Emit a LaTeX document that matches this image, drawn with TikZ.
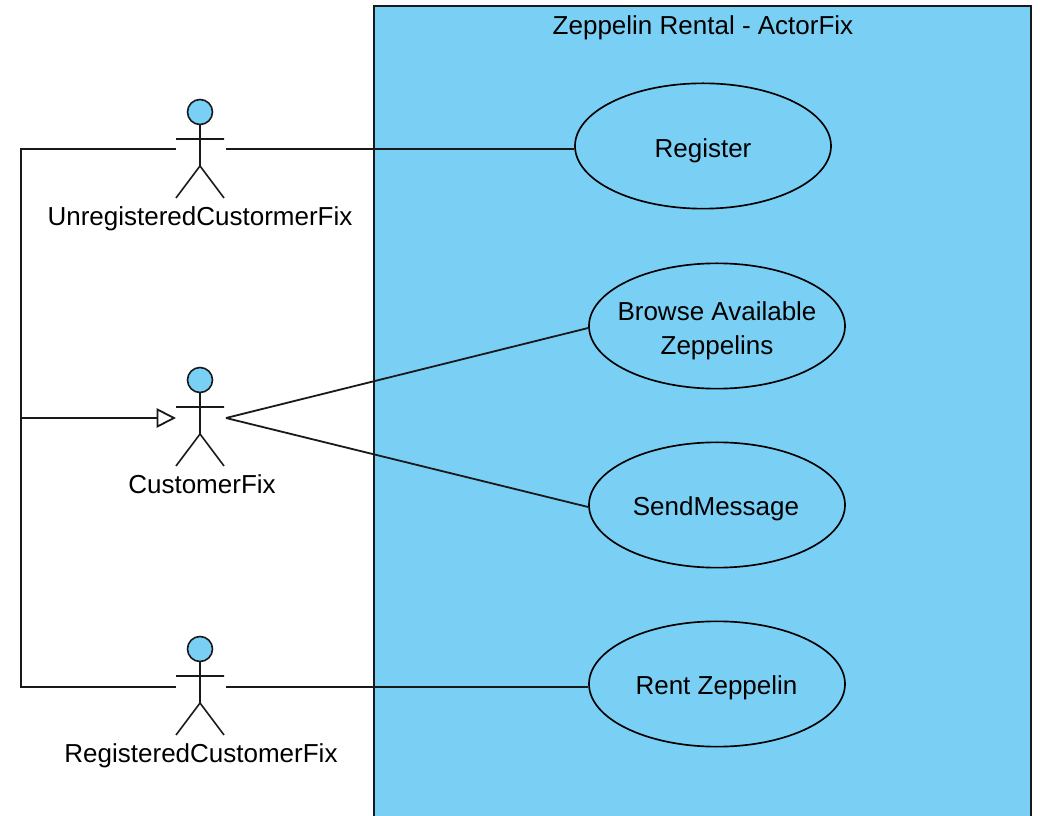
\documentclass[tikz,border=0pt]{standalone}
\usepackage{fontspec}
\setmainfont{Liberation Sans}
\usetikzlibrary{arrows.meta,shapes.geometric}
\definecolor{umlblue}{RGB}{122,207,245}
\definecolor{umlline}{RGB}{25,25,25}
\tikzset{
  x=0.75pt,y=-0.75pt,
  conn/.style={draw=umlline,line width=1.35pt},
  figure/.style={draw=umlline,line width=1.2pt},
  usecase/.style={ellipse,draw=black,line width=1.25pt,fill=umlblue,inner sep=0pt,
    minimum width=192pt,minimum height=94pt},
  label/.style={font=\fontsize{19.5}{22}\selectfont,inner sep=0pt,anchor=base},
  pics/stick/.style={code={
    \draw[figure,fill=umlblue] (0,-38) circle[radius=12.5];
    \draw[figure] (0,-25.5) -- (0,16) (-24,-11) -- (24,-11) (-24,48) -- (0,16) -- (24,48);
  }}
}
\begin{document}
\begin{tikzpicture}
\useasboundingbox (0,0) rectangle (1040,816);
\path[draw=umlline,line width=1.2pt,fill=umlblue] (374,830) -- (374,6) -- (1031,6) -- (1031,830);
\clip (0,0) rectangle (1040,816);
\node[label] (title) at (703,34.5) {Zeppelin Rental - ActorFix};
\node[usecase] (e1) at (703,146) {};
\node[usecase] (e2) at (717,326) {};
\node[usecase] (e3) at (717,505) {};
\node[usecase] (e4) at (717,684) {};
\node[label] (t1) at (703,158) {Register};
\node[label] (t2a) at (717,321) {Browse Available};
\node[label] (t2b) at (717,355) {Zeppelins};
\node[label] (t3) at (716,516) {SendMessage};
\node[label] (t4) at (716.5,695) {Rent Zeppelin};
\pic at (200,150) {stick};
\pic at (200,418) {stick};
\pic at (200,687) {stick};
\node[label] (n1) at (200,226) {UnregisteredCustormerFix};
\node[label] (n2) at (202,494) {CustomerFix};
\node[label] (n3) at (201,762) {RegisteredCustomerFix};
\coordinate (a1l) at (176,149); \coordinate (a1r) at (226,149);
\coordinate (a2l) at (176,418); \coordinate (a2r) at (226,418);
\coordinate (a3l) at (176,687); \coordinate (a3r) at (226,687);
\coordinate (j1) at (21,149); \coordinate (j2) at (21,418); \coordinate (j3) at (21,687);
\draw[conn] (a1r) -- (a1r -| e1.west);
\draw[conn] (a2r) -- ([yshift=-1.5pt]e2.west);
\draw[conn] (a2r) -- ([yshift=-1.5pt]e3.west);
\draw[conn] (a3r) -- (a3r -| e4.west);
\draw[conn] (a1l) -- (j1) -- (j3) -- (a3l);
\draw[conn,-{Triangle[open,length=14.5pt,width=14.5pt,fill=white]}] (j2) -- (a2l);
\end{tikzpicture}
\end{document}
